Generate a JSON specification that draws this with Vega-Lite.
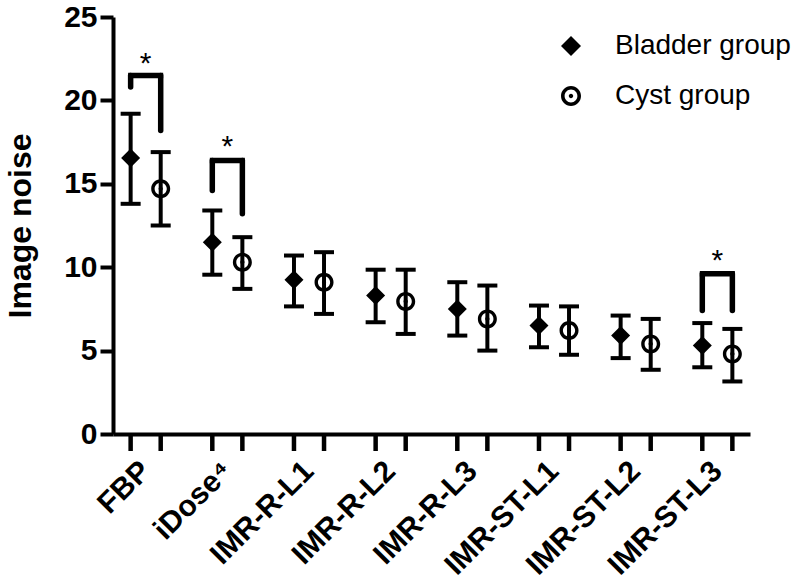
{
  "$schema": "https://vega.github.io/schema/vega-lite/v6.json",
  "width": 637,
  "height": 417,
  "autosize": "none",
  "padding": {"left": 113, "top": 17, "right": 50, "bottom": 151},
  "background": "white",
  "config": {"view": {"stroke": null}, "font": "Liberation Sans"},
  "datasets": {
    "main": [
      {"category": "FBP", "group": "Bladder group", "mean": 16.55, "lo": 13.8, "hi": 19.2},
      {"category": "FBP", "group": "Cyst group", "mean": 14.7, "lo": 12.5, "hi": 16.9},
      {"category": "iDose⁴", "group": "Bladder group", "mean": 11.5, "lo": 9.55, "hi": 13.4},
      {"category": "iDose⁴", "group": "Cyst group", "mean": 10.3, "lo": 8.7, "hi": 11.8},
      {"category": "IMR-R-L1", "group": "Bladder group", "mean": 9.25, "lo": 7.65, "hi": 10.7},
      {"category": "IMR-R-L1", "group": "Cyst group", "mean": 9.1, "lo": 7.2, "hi": 10.9},
      {"category": "IMR-R-L2", "group": "Bladder group", "mean": 8.3, "lo": 6.7, "hi": 9.85},
      {"category": "IMR-R-L2", "group": "Cyst group", "mean": 7.95, "lo": 6.0, "hi": 9.85},
      {"category": "IMR-R-L3", "group": "Bladder group", "mean": 7.5, "lo": 5.9, "hi": 9.1},
      {"category": "IMR-R-L3", "group": "Cyst group", "mean": 6.9, "lo": 5.0, "hi": 8.9},
      {"category": "IMR-ST-L1", "group": "Bladder group", "mean": 6.5, "lo": 5.2, "hi": 7.7},
      {"category": "IMR-ST-L1", "group": "Cyst group", "mean": 6.2, "lo": 4.75, "hi": 7.65},
      {"category": "IMR-ST-L2", "group": "Bladder group", "mean": 5.9, "lo": 4.55, "hi": 7.1},
      {"category": "IMR-ST-L2", "group": "Cyst group", "mean": 5.4, "lo": 3.85, "hi": 6.9},
      {"category": "IMR-ST-L3", "group": "Bladder group", "mean": 5.3, "lo": 4.0, "hi": 6.65},
      {"category": "IMR-ST-L3", "group": "Cyst group", "mean": 4.8, "lo": 3.15, "hi": 6.3}
    ],
    "legs": [
      {"category": "FBP", "group": "Bladder group", "top": 21.5, "bottom": 20.8},
      {"category": "FBP", "group": "Cyst group", "top": 21.5, "bottom": 18.2},
      {"category": "iDose⁴", "group": "Bladder group", "top": 16.4, "bottom": 14.6},
      {"category": "iDose⁴", "group": "Cyst group", "top": 16.4, "bottom": 13.2},
      {"category": "IMR-ST-L3", "group": "Bladder group", "top": 9.6, "bottom": 7.4},
      {"category": "IMR-ST-L3", "group": "Cyst group", "top": 9.6, "bottom": 7.4}
    ],
    "sig": [
      {"category": "FBP", "top": 21.5, "star": 22.6, "label": "*"},
      {"category": "iDose⁴", "top": 16.4, "star": 17.6, "label": "*"},
      {"category": "IMR-ST-L3", "top": 9.6, "star": 10.8, "label": "*"}
    ]
  },
  "encoding": {
    "x": {
      "field": "category",
      "type": "nominal",
      "sort": null,
      "scale": {
        "domain": ["FBP", "iDose⁴", "IMR-R-L1", "IMR-R-L2", "IMR-R-L3", "IMR-ST-L1", "IMR-ST-L2", "IMR-ST-L3"],
        "paddingInner": 0.4,
        "paddingOuter": 0.1
      },
      "axis": {
        "title": null,
        "labelAngle": -45,
        "labelAlign": "right",
        "labelBaseline": "middle",
        "labelFontSize": 30,
        "labelFontWeight": "bold",
        "labelColor": "black",
        "labelPadding": 32,
        "labelOverlap": false,
        "labelLimit": 400,
        "ticks": false,
        "domainColor": "black",
        "domainWidth": 4
      }
    }
  },
  "layer": [
    {
      "data": {"name": "main"},
      "mark": {"type": "rule", "color": "black", "opacity": 1, "strokeWidth": 4},
      "encoding": {
        "xOffset": {"field": "group", "type": "nominal", "scale": {"domain": ["Bladder group", "Cyst group"], "paddingInner": 0.37, "paddingOuter": 0}},
        "y": {"field": "lo", "type": "quantitative", "scale": {"domain": [0, 25], "nice": false, "zero": false},
          "axis": {"title": "Image noise", "titleFontSize": 32, "titleFontWeight": "bold", "titleColor": "black", "titlePadding": 26,
            "values": [0, 5, 10, 15, 20, 25], "grid": false, "labelFontSize": 30, "labelFontWeight": "bold", "labelColor": "black",
            "labelPadding": 3, "tickSize": 13, "tickWidth": 4, "tickColor": "black", "domainWidth": 4, "domainColor": "black"}},
        "y2": {"field": "hi"}
      }
    },
    {
      "data": {"name": "main"},
      "mark": {"type": "tick", "color": "black", "opacity": 1, "size": 20, "thickness": 4},
      "encoding": {
        "xOffset": {"field": "group", "type": "nominal"},
        "y": {"field": "lo", "type": "quantitative"}
      }
    },
    {
      "data": {"name": "main"},
      "mark": {"type": "tick", "color": "black", "opacity": 1, "size": 20, "thickness": 4},
      "encoding": {
        "xOffset": {"field": "group", "type": "nominal"},
        "y": {"field": "hi", "type": "quantitative"}
      }
    },
    {
      "data": {"name": "main"},
      "mark": {"type": "tick", "orient": "vertical", "color": "black", "opacity": 1, "size": 17, "thickness": 4.5, "yOffset": 8.5},
      "encoding": {
        "xOffset": {"field": "group", "type": "nominal"},
        "y": {"datum": 0}
      }
    },
    {
      "data": {"name": "main"},
      "mark": {"type": "point", "filled": true, "color": "black", "opacity": 1, "size": 361, "strokeWidth": 0},
      "encoding": {
        "xOffset": {"field": "group", "type": "nominal"},
        "y": {"field": "mean", "type": "quantitative"},
        "shape": {
          "field": "group",
          "type": "nominal",
          "scale": {
            "domain": ["Bladder group", "Cyst group"],
            "range": ["diamond", "M -1 0 A 1 1 0 1 1 1 0 A 1 1 0 1 1 -1 0 Z M -0.64 0 A 0.64 0.64 0 1 0 0.64 0 A 0.64 0.64 0 1 0 -0.64 0 Z M -0.22 0 A 0.22 0.22 0 1 1 0.22 0 A 0.22 0.22 0 1 1 -0.22 0 Z"]
          },
          "legend": {
            "title": null,
            "orient": "none",
            "legendX": 444,
            "legendY": 15,
            "labelFontSize": 28,
            "labelLimit": 400,
            "labelColor": "black",
            "labelOffset": 30,
            "rowPadding": 22,
            "symbolSize": 400,
            "symbolFillColor": "black",
            "symbolStrokeWidth": 0,
            "symbolOpacity": 1
          }
        }
      }
    },
    {
      "data": {"name": "legs"},
      "mark": {"type": "rule", "color": "black", "opacity": 1, "strokeWidth": 5.5, "strokeCap": "round"},
      "encoding": {
        "xOffset": {"field": "group", "type": "nominal"},
        "y": {"field": "top", "type": "quantitative"},
        "y2": {"field": "bottom"}
      }
    },
    {
      "data": {"name": "sig"},
      "mark": {"type": "tick", "color": "black", "opacity": 1, "size": 35, "thickness": 5.5},
      "encoding": {
        "y": {"field": "top", "type": "quantitative"}
      }
    },
    {
      "data": {"name": "sig"},
      "mark": {"type": "text", "color": "black", "fontSize": 30, "baseline": "middle", "dy": 7},
      "encoding": {
        "y": {"field": "star", "type": "quantitative"},
        "text": {"field": "label"}
      }
    }
  ]
}
